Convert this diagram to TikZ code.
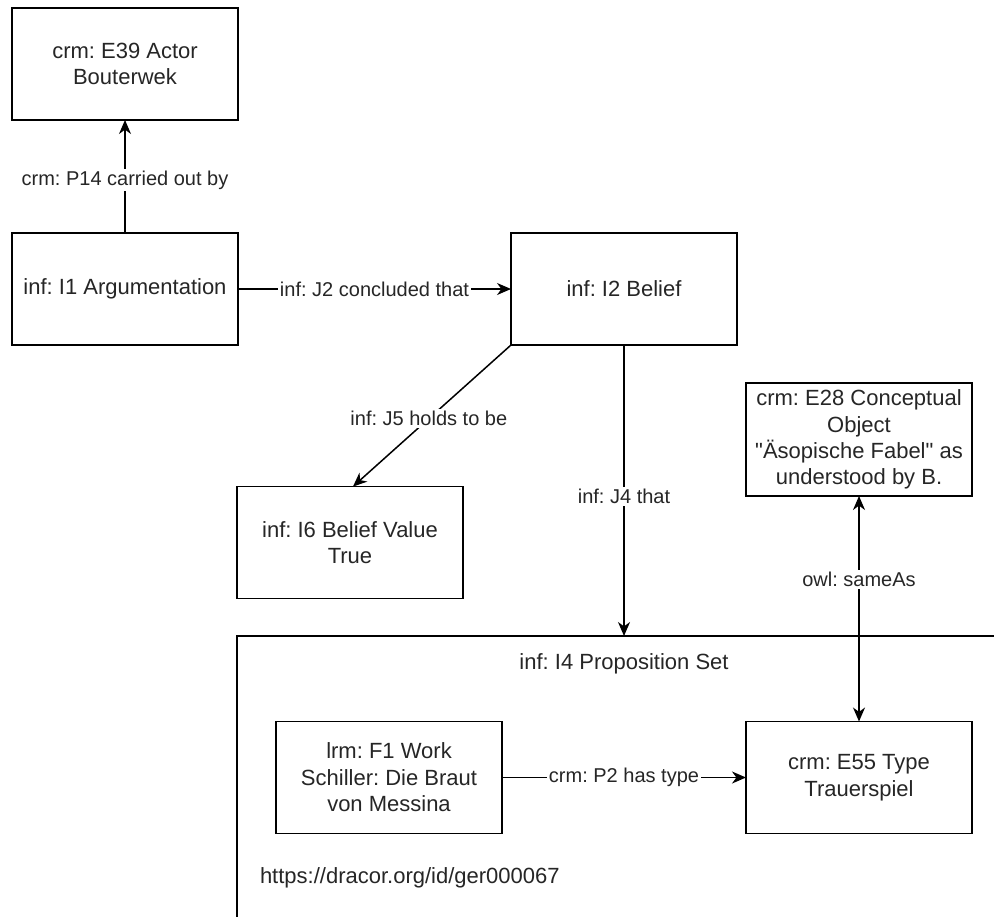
\documentclass[tikz,border=0pt]{standalone}
\usepackage{fontspec}
\setmainfont{Liberation Sans}[Ligatures=TeXOff]
\usetikzlibrary{arrows.meta,calc}
\frenchspacing
\begin{document}
\begin{tikzpicture}[x=0.5pt,y=-0.5pt,
  every node/.style={inner sep=0pt, outer sep=0pt},
  nodebox/.style={draw, line width=0.75pt, minimum width=113pt, minimum height=56pt, align=center,
    font=\frenchspacing\fontsize{11pt}{13.2pt}\selectfont, text=black!85},
  conn/.style={line width=0.75pt, -{Stealth[length=7pt,width=6pt,inset=2.2pt]}},
  elabel/.style={fill=white, inner sep=1pt, font=\frenchspacing\fontsize{10pt}{12pt}\selectfont, text=black!85}
]
\useasboundingbox (0,0) rectangle (994,916);
\clip (0,0) rectangle (994,916);
\fill[white] (0,0) rectangle (994,916);

% container
\node[draw, line width=0.75pt, minimum width=431.5pt, minimum height=182pt] (ps) at (668.5,818) {};
\node[font=\frenchspacing\fontsize{11pt}{13.2pt}\selectfont, text=black!85] (pslabel) at (624,664) {inf: I4 Proposition Set};
\node[anchor=west, font=\frenchspacing\fontsize{11pt}{13.2pt}\selectfont, text=black!85] (url) at (260,878) {https://dracor.org/id/ger000067};

% boxes
\node[nodebox] (E39) at (125,64) {crm: E39 Actor\\Bouterwek};
\node[nodebox] (I1) at (125,289) {inf: I1 Argumentation};
\node[nodebox] (I2) at (624,289) {inf: I2 Belief};
\node[nodebox] (I6) at (350,542.5) {inf: I6 Belief Value\\True};
\node[nodebox, minimum height=56.5pt] (E28) at (859,439.5) {crm: E28 Conceptual\\Object\\"Äsopische Fabel" as\\understood by B.};
\node[nodebox] (F1) at (389,777.5) {lrm: F1 Work\\Schiller: Die Braut\\von Messina};
\node[nodebox] (E55) at (859,777.5) {crm: E55 Type\\Trauerspiel};

% connectors
\draw[conn] (I1.north) -- node[elabel, pos=0.47] {crm: P14 carried out by} (E39.south);
\draw[conn] (I1.east) -- node[elabel] {inf: J2 concluded that} (I2.west);
\draw[conn] (I2.south west) -- node[elabel, pos=0.52] {inf: J5 holds to be} ([xshift=1.5pt]I6.north);
\coordinate (psTop) at (I2.south |- ps.north);
\draw[conn] (I2.south) -- node[elabel, pos=0.52] {inf: J4 that} (psTop);
\draw[line width=0.75pt, {Stealth[length=7pt,width=6pt,inset=2.2pt]}-{Stealth[length=7pt,width=6pt,inset=2.2pt]}] (E28.south) -- node[elabel, pos=0.37] {owl: sameAs} (E55.north);
\draw[conn] (F1.east) -- node[elabel] {crm: P2 has type} (E55.west);
\end{tikzpicture}
\end{document}
